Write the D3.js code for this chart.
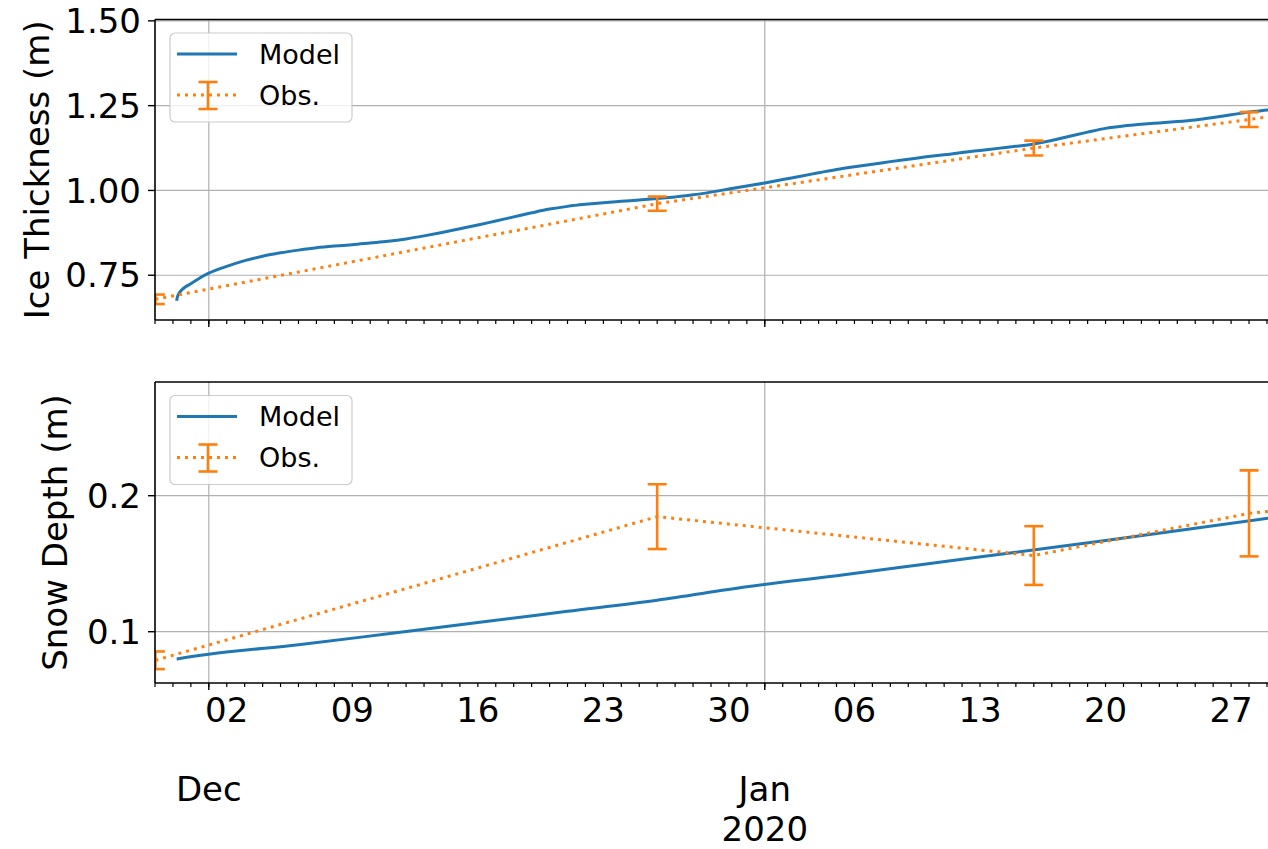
<!DOCTYPE html>
<html><head><meta charset="utf-8">
<script src="https://cdn.jsdelivr.net/npm/d3@7"></script>
<style>
html,body{margin:0;padding:0;background:#fff;}
svg{display:block;font-family:"DejaVu Sans",sans-serif;}
</style></head><body>
<svg id="chart" width="1268" height="849"></svg>
<script>
// ---- Ice thickness: model run ----
const iceModelDates = [
  "2019-11-29 05:00","2019-11-29 06:00","2019-11-29 08:00","2019-11-29 12:00",
  "2019-11-29 17:00","2019-11-30 00:00","2019-11-30 12:00",
  "2019-12-01 00:00","2019-12-02 00:00","2019-12-03 00:00","2019-12-04 00:00",
  "2019-12-05 00:00","2019-12-06 00:00","2019-12-07 00:00","2019-12-08 00:00",
  "2019-12-09 00:00","2019-12-10 00:00","2019-12-11 00:00","2019-12-12 00:00",
  "2019-12-13 00:00","2019-12-14 00:00","2019-12-15 00:00","2019-12-16 00:00",
  "2019-12-17 00:00","2019-12-18 00:00","2019-12-19 00:00","2019-12-20 00:00",
  "2019-12-21 00:00","2019-12-22 00:00","2019-12-23 00:00","2019-12-24 00:00",
  "2019-12-25 00:00","2019-12-26 00:00","2019-12-27 00:00","2019-12-28 00:00",
  "2019-12-29 00:00","2019-12-30 00:00","2019-12-31 00:00","2020-01-01 00:00",
  "2020-01-02 00:00","2020-01-03 00:00","2020-01-04 00:00","2020-01-05 00:00",
  "2020-01-06 00:00","2020-01-07 00:00","2020-01-08 00:00","2020-01-09 00:00",
  "2020-01-10 00:00","2020-01-11 00:00","2020-01-12 00:00","2020-01-13 00:00",
  "2020-01-14 00:00","2020-01-15 00:00","2020-01-16 00:00","2020-01-17 00:00",
  "2020-01-18 00:00","2020-01-19 00:00","2020-01-20 00:00","2020-01-21 00:00",
  "2020-01-22 00:00","2020-01-23 00:00","2020-01-24 00:00","2020-01-25 00:00",
  "2020-01-26 00:00","2020-01-27 00:00","2020-01-28 00:00","2020-01-29 00:00",
  "2020-01-30 00:00"
];
const iceModelValues = [
  0.675,0.686,0.696,0.707,
  0.716,0.725,0.742,
  0.756,0.776,0.793,0.806,
  0.816,0.824,0.831,0.836,
  0.840,0.845,0.850,0.857,
  0.866,0.876,0.887,0.898,
  0.910,0.922,0.934,0.945,
  0.953,0.959,0.964,0.968,
  0.972,0.976,0.981,0.987,
  0.995,1.004,1.013,1.022,
  1.032,1.042,1.052,1.062,
  1.070,1.077,1.085,1.092,
  1.099,1.105,1.112,1.118,
  1.124,1.130,1.137,1.147,
  1.160,1.172,1.183,1.190,
  1.195,1.199,1.203,1.208,
  1.215,1.223,1.231,1.237,
  1.243
];

// ---- Ice thickness: observations (mean, error) ----
const iceObsDates  = ["2019-11-28 00:30","2019-12-26 00:00","2020-01-16 00:00","2020-01-28 00:00","2020-02-04 00:00"];
const iceObsValues = [0.679, 0.961, 1.125, 1.209, 1.264];
const iceObsErrors = [0.014, 0.021, 0.022, 0.022, 0.022];

// ---- Snow depth: model run ----
const snowModelDates = [
  "2019-11-29 05:00","2019-12-01 00:00","2019-12-06 00:00","2019-12-11 00:00",
  "2019-12-16 00:00","2019-12-21 00:00","2019-12-26 00:00","2019-12-31 00:00",
  "2020-01-05 00:00","2020-01-10 00:00","2020-01-15 00:00","2020-01-20 00:00",
  "2020-01-25 00:00","2020-01-30 00:00"
];
const snowModelValues = [
  0.0800,0.0834,0.0904,0.0985,
  0.1068,0.1150,0.1232,0.1330,
  0.1412,0.1498,0.1584,0.1670,
  0.1760,0.1852
];

// ---- Snow depth: observations (mean, error) ----
const snowObsDates  = ["2019-11-28 00:30","2019-12-26 00:00","2020-01-16 00:00","2020-01-28 00:00","2020-02-04 00:00"];
const snowObsValues = [0.079, 0.1846, 0.156, 0.187, 0.196];
const snowObsErrors = [0.0065, 0.0238, 0.0216, 0.0316, 0.03];

// ---- Axis settings ----
const xDomain = ["2019-11-28 00:00", "2020-02-01 00:00"];
const iceTicks  = [0.75, 1.00, 1.25, 1.50];
const snowTicks = [0.1, 0.2];
const iceLimits  = [0.618, 1.504];
const snowLimits = [0.0623, 0.2836];
const seriesNames = ["Model", "Obs."];

const parse = d3.utcParse("%Y-%m-%d %H:%M");
const BLUE = "#1f77b4", ORANGE = "#ff7f0e", GRID = "#b0b0b0";

const svg = d3.select("#chart");
svg.append("rect").attr("width", 1268).attr("height", 849).attr("fill", "#fff");

const left = 155, pxPerDay = 17.935;
const d0 = parse(xDomain[0]), d1 = parse(xDomain[1]);
const x = d3.scaleUtc().domain([d0, d1])
  .range([left, left + (d1 - d0) / 864e5 * pxPerDay]);
const right = x.range()[1];

const panels = [
  { top: 19.5, bottom: 320, limits: iceLimits, ticks: iceTicks, fmt: d3.format(".2f"),
    label: "Ice Thickness (m)", labelX: 49,
    model: iceModelDates.map((d, i) => ({ t: parse(d), v: iceModelValues[i] })),
    obs: iceObsDates.map((d, i) => ({ t: parse(d), v: iceObsValues[i], e: iceObsErrors[i] })),
    xLabels: false },
  { top: 382, bottom: 683, limits: snowLimits, ticks: snowTicks, fmt: d3.format(".1f"),
    label: "Snow Depth (m)", labelX: 67,
    model: snowModelDates.map((d, i) => ({ t: parse(d), v: snowModelValues[i] })),
    obs: snowObsDates.map((d, i) => ({ t: parse(d), v: snowObsValues[i], e: snowObsErrors[i] })),
    xLabels: true }
];

const dayTicks = d3.utcDay.range(d0, d1);
const mondayTicks = d3.utcMonday.range(d0, d1);
const monthTicks = d3.utcMonth.range(d0, d1);

panels.forEach((p, pi) => {
  const y = d3.scaleLinear().domain(p.limits).range([p.bottom, p.top]);
  const g = svg.append("g");
  const clipId = "clip" + pi;
  svg.append("clipPath").attr("id", clipId).append("rect")
    .attr("x", left).attr("y", p.top).attr("width", right - left).attr("height", p.bottom - p.top);

  // grid
  const grid = g.append("g").attr("stroke", GRID).attr("stroke-width", 1.2);
  grid.selectAll(".gx").data(monthTicks).join("line")
    .attr("x1", d => x(d)).attr("x2", d => x(d)).attr("y1", p.top).attr("y2", p.bottom);
  grid.selectAll(".gy").data(p.ticks).join("line")
    .attr("x1", left).attr("x2", right).attr("y1", d => y(d)).attr("y2", d => y(d));

  const plot = g.append("g").attr("clip-path", `url(#${clipId})`);

  // model line
  const line = d3.line().x(d => x(d.t)).y(d => y(d.v)).curve(d3.curveMonotoneX);
  plot.append("path").datum(p.model).attr("d", line)
    .attr("fill", "none").attr("stroke", BLUE).attr("stroke-width", 3);

  // obs dotted line
  const obsLine = d3.line().x(d => x(d.t)).y(d => y(d.v));
  plot.append("path").datum(p.obs).attr("d", obsLine)
    .attr("fill", "none").attr("stroke", ORANGE).attr("stroke-width", 3)
    .attr("stroke-dasharray", "3 5");

  // error bars
  const eb = plot.append("g").attr("stroke", ORANGE).attr("stroke-width", 2.6);
  p.obs.forEach(d => {
    const cx = x(d.t);
    eb.append("line").attr("x1", cx).attr("x2", cx).attr("y1", y(d.v - d.e)).attr("y2", y(d.v + d.e));
    eb.append("line").attr("x1", cx - 9.5).attr("x2", cx + 9.5).attr("y1", y(d.v - d.e)).attr("y2", y(d.v - d.e));
    eb.append("line").attr("x1", cx - 9.5).attr("x2", cx + 9.5).attr("y1", y(d.v + d.e)).attr("y2", y(d.v + d.e));
  });

  // spines
  const sp = g.append("g").attr("stroke", "#000").attr("stroke-width", 1.6);
  sp.append("line").attr("x1", left).attr("x2", right).attr("y1", p.top).attr("y2", p.top);
  sp.append("line").attr("x1", left).attr("x2", right).attr("y1", p.bottom).attr("y2", p.bottom);
  sp.append("line").attr("x1", left).attr("x2", left).attr("y1", p.top).attr("y2", p.bottom);
  sp.append("line").attr("x1", right).attr("x2", right).attr("y1", p.top).attr("y2", p.bottom);

  // y ticks & labels
  const yt = g.append("g");
  yt.selectAll("line").data(p.ticks).join("line")
    .attr("x1", left - 7).attr("x2", left).attr("y1", d => y(d)).attr("y2", d => y(d))
    .attr("stroke", "#000").attr("stroke-width", 1.4);
  yt.selectAll("text").data(p.ticks).join("text")
    .attr("x", left - 14).attr("y", d => y(d)).attr("dy", "0.36em")
    .attr("text-anchor", "end").attr("font-size", 34).attr("fill", "#000")
    .text(p.fmt);

  // x ticks (daily minor, monthly major)
  const xt = g.append("g").attr("stroke", "#000").attr("stroke-width", 1.2);
  xt.selectAll(".mn").data(dayTicks).join("line")
    .attr("x1", d => x(d)).attr("x2", d => x(d)).attr("y1", p.bottom).attr("y2", p.bottom + 4);
  xt.selectAll(".mj").data(monthTicks).join("line")
    .attr("x1", d => x(d)).attr("x2", d => x(d)).attr("y1", p.bottom).attr("y2", p.bottom + 7)
    .attr("stroke-width", 1.4);

  if (p.xLabels) {
    const lab = g.append("g").attr("font-size", 34).attr("text-anchor", "middle").attr("fill", "#000");
    lab.selectAll(".wk").data(mondayTicks).join("text")
      .attr("x", d => x(d)).attr("y", p.bottom + 39).text(d3.utcFormat("%d"));
    // month names, with the year on a second line at the start of a year
    lab.selectAll(".mo").data(monthTicks).join("text")
      .attr("x", d => x(d)).attr("y", p.bottom + 118).text(d3.utcFormat("%b"));
    lab.selectAll(".yr").data(monthTicks.filter(d => d.getUTCMonth() === 0)).join("text")
      .attr("x", d => x(d)).attr("y", p.bottom + 158).text(d3.utcFormat("%Y"));
  }

  // y axis title
  g.append("text").attr("transform", `translate(${p.labelX},${(p.top + p.bottom) / 2}) rotate(-90)`)
    .attr("text-anchor", "middle").attr("font-size", 34).attr("fill", "#000").text(p.label);

  // legend
  const lg = g.append("g").attr("transform", `translate(170,${p.top + 13.5})`);
  lg.append("rect").attr("width", 182).attr("height", 89).attr("rx", 5)
    .attr("fill", "#fff").attr("fill-opacity", 0.8).attr("stroke", "#cccccc").attr("stroke-width", 1.2);
  lg.append("line").attr("x1", 7).attr("x2", 67).attr("y1", 21).attr("y2", 21)
    .attr("stroke", BLUE).attr("stroke-width", 3);
  lg.append("line").attr("x1", 7).attr("x2", 67).attr("y1", 62).attr("y2", 62)
    .attr("stroke", ORANGE).attr("stroke-width", 3).attr("stroke-dasharray", "3 5");
  const le = lg.append("g").attr("stroke", ORANGE).attr("stroke-width", 2.6);
  le.append("line").attr("x1", 38).attr("x2", 38).attr("y1", 49).attr("y2", 76);
  le.append("line").attr("x1", 28.5).attr("x2", 47.5).attr("y1", 49).attr("y2", 49);
  le.append("line").attr("x1", 28.5).attr("x2", 47.5).attr("y1", 76).attr("y2", 76);
  lg.selectAll("text").data(seriesNames).join("text")
    .attr("x", 89).attr("y", (d, i) => 21 + i * 41).attr("dy", "0.36em")
    .attr("font-size", 27).attr("fill", "#000").text(d => d);
});
</script>
</body></html>
